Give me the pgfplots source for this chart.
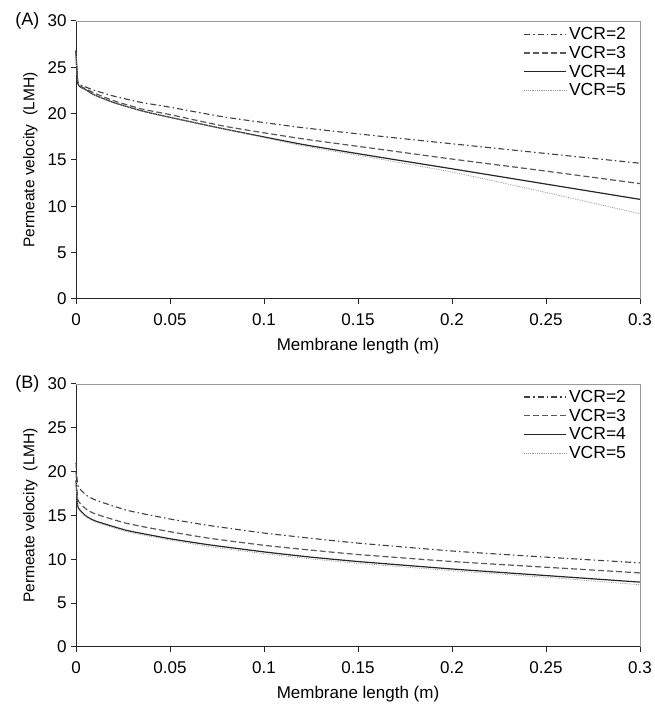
\documentclass[border=0pt]{standalone}
\usepackage{pgfplots}
\pgfplotsset{compat=1.18}
\usepackage{fontspec}
\setmainfont{Liberation Sans}
\pgfplotstableread{
x v2 v3 v4 v5
0 26.8 26.8 26.8 26.6
0.001 23.4 23.3 23.2 23.3
0.005 22.9 22.7 22.6 22.6
0.01 22.5 22.2 22.0 22.0
0.02 21.9 21.4 21.2 21.2
0.035 21.2 20.5 20.3 20.3
0.05 20.7 19.9 19.6 19.6
0.08 19.6 18.6 18.3 18.3
0.12 18.5 17.3 16.7 16.55
0.16 17.6 16.2 15.35 15.15
0.2 16.75 15.1 14.05 13.7
0.25 15.7 13.8 12.4 11.5
0.3 14.65 12.45 10.75 9.2
}\dataA
\pgfplotstableread{
x v2 v3 v4 v5
0 21.0 20.0 19.0 19.0
0.001 18.4 16.8 16.0 15.9
0.005 17.4 15.8 15.0 14.9
0.01 16.8 15.2 14.4 14.3
0.027 15.6 14.1 13.3 13.15
0.05 14.6 13.15 12.35 12.2
0.071 13.85 12.4 11.65 11.45
0.1 13.0 11.6 10.85 10.65
0.125 12.4 11.05 10.25 10.05
0.15 11.85 10.55 9.75 9.55
0.2 10.95 9.75 8.9 8.7
0.25 10.25 9.1 8.15 7.95
0.3 9.6 8.45 7.4 7.1
}\dataB
\pgfplotsset{
  panel/.style={
    scale only axis, width=564pt,
    xmin=0, xmax=0.3, ymin=0, ymax=30,
    axis x line*=bottom, axis y line*=left,
    axis line style={black!85, line width=1pt},
    xtick={0,0.05,0.1,0.15,0.2,0.25,0.3},
    xticklabels={0,0.05,0.1,0.15,0.2,0.25,0.3},
    ytick={0,5,10,15,20,25,30},
    tick align=outside, major tick length=5pt,
    tick style={black!85, line width=1pt},
    ticklabel style={font=\fontsize{17}{17}\selectfont},
    xticklabel style={yshift=-6pt},
    yticklabel style={xshift=-1pt},
    /pgf/number format/assume math mode=true,
    xlabel={Membrane length (m)},
    ylabel={Permeate velocity\ \ (LMH)},
    xlabel style={font=\fontsize{17}{17}\selectfont, yshift=-6pt},
    ylabel style={font=\fontsize{15.5}{15.5}\selectfont, yshift=3pt},
    legend style={draw=none, fill=none, inner sep=0pt, at={(0.979,0.985)}, anchor=north east,
      font=\fontsize{17.5}{20}\selectfont, legend cell align=left,
      row sep=1pt},
    legend image code/.code={\draw[##1] (0pt,0pt) -- (42pt,0pt);},
    clip=false,
    every axis plot/.append style={smooth, tension=0.3},
  },
  s2/.style={black!75, line width=1.1pt, dash pattern=on 6pt off 3pt on 1.5pt off 3pt},
  s3/.style={black!65, line width=1.2pt, dash pattern=on 6pt off 3pt},
  s4/.style={black!85, line width=1.2pt},
  s5/.style={black!40, line width=0.8pt, densely dotted},
}
\begin{document}
\begin{tikzpicture}
\begin{axis}[panel, height=278pt, at={(76pt,409pt)}, anchor=south west]
\addplot[s2] table[x=x,y=v2] {\dataA}; \addlegendentry{VCR=2}
\addplot[s3] table[x=x,y=v3] {\dataA}; \addlegendentry{VCR=3}
\addplot[s4] table[x=x,y=v4] {\dataA}; \addlegendentry{VCR=4}
\addplot[s5] table[x=x,y=v5] {\dataA}; \addlegendentry{VCR=5}
\draw[black!40, line width=0.8pt] (rel axis cs:0,1) -- (rel axis cs:1,1) -- (rel axis cs:1,0);
\node[anchor=east, font=\fontsize{18}{18}\selectfont] at ([xshift=-33pt]rel axis cs:0,1) {(A)};
\end{axis}
\begin{axis}[panel, height=263pt, at={(76pt,61pt)}, anchor=south west]
\addplot[s2] table[x=x,y=v2] {\dataB}; \addlegendentry{VCR=2}
\addplot[s3] table[x=x,y=v3] {\dataB}; \addlegendentry{VCR=3}
\addplot[s4] table[x=x,y=v4] {\dataB}; \addlegendentry{VCR=4}
\addplot[s5] table[x=x,y=v5] {\dataB}; \addlegendentry{VCR=5}
\draw[black!40, line width=0.8pt] (rel axis cs:0,1) -- (rel axis cs:1,1) -- (rel axis cs:1,0);
\node[anchor=east, font=\fontsize{18}{18}\selectfont] at ([xshift=-33pt]rel axis cs:0,1) {(B)};
\end{axis}
\pgfresetboundingbox
\path[use as bounding box] (0,0) rectangle (654pt,708pt);
\end{tikzpicture}
\end{document}
